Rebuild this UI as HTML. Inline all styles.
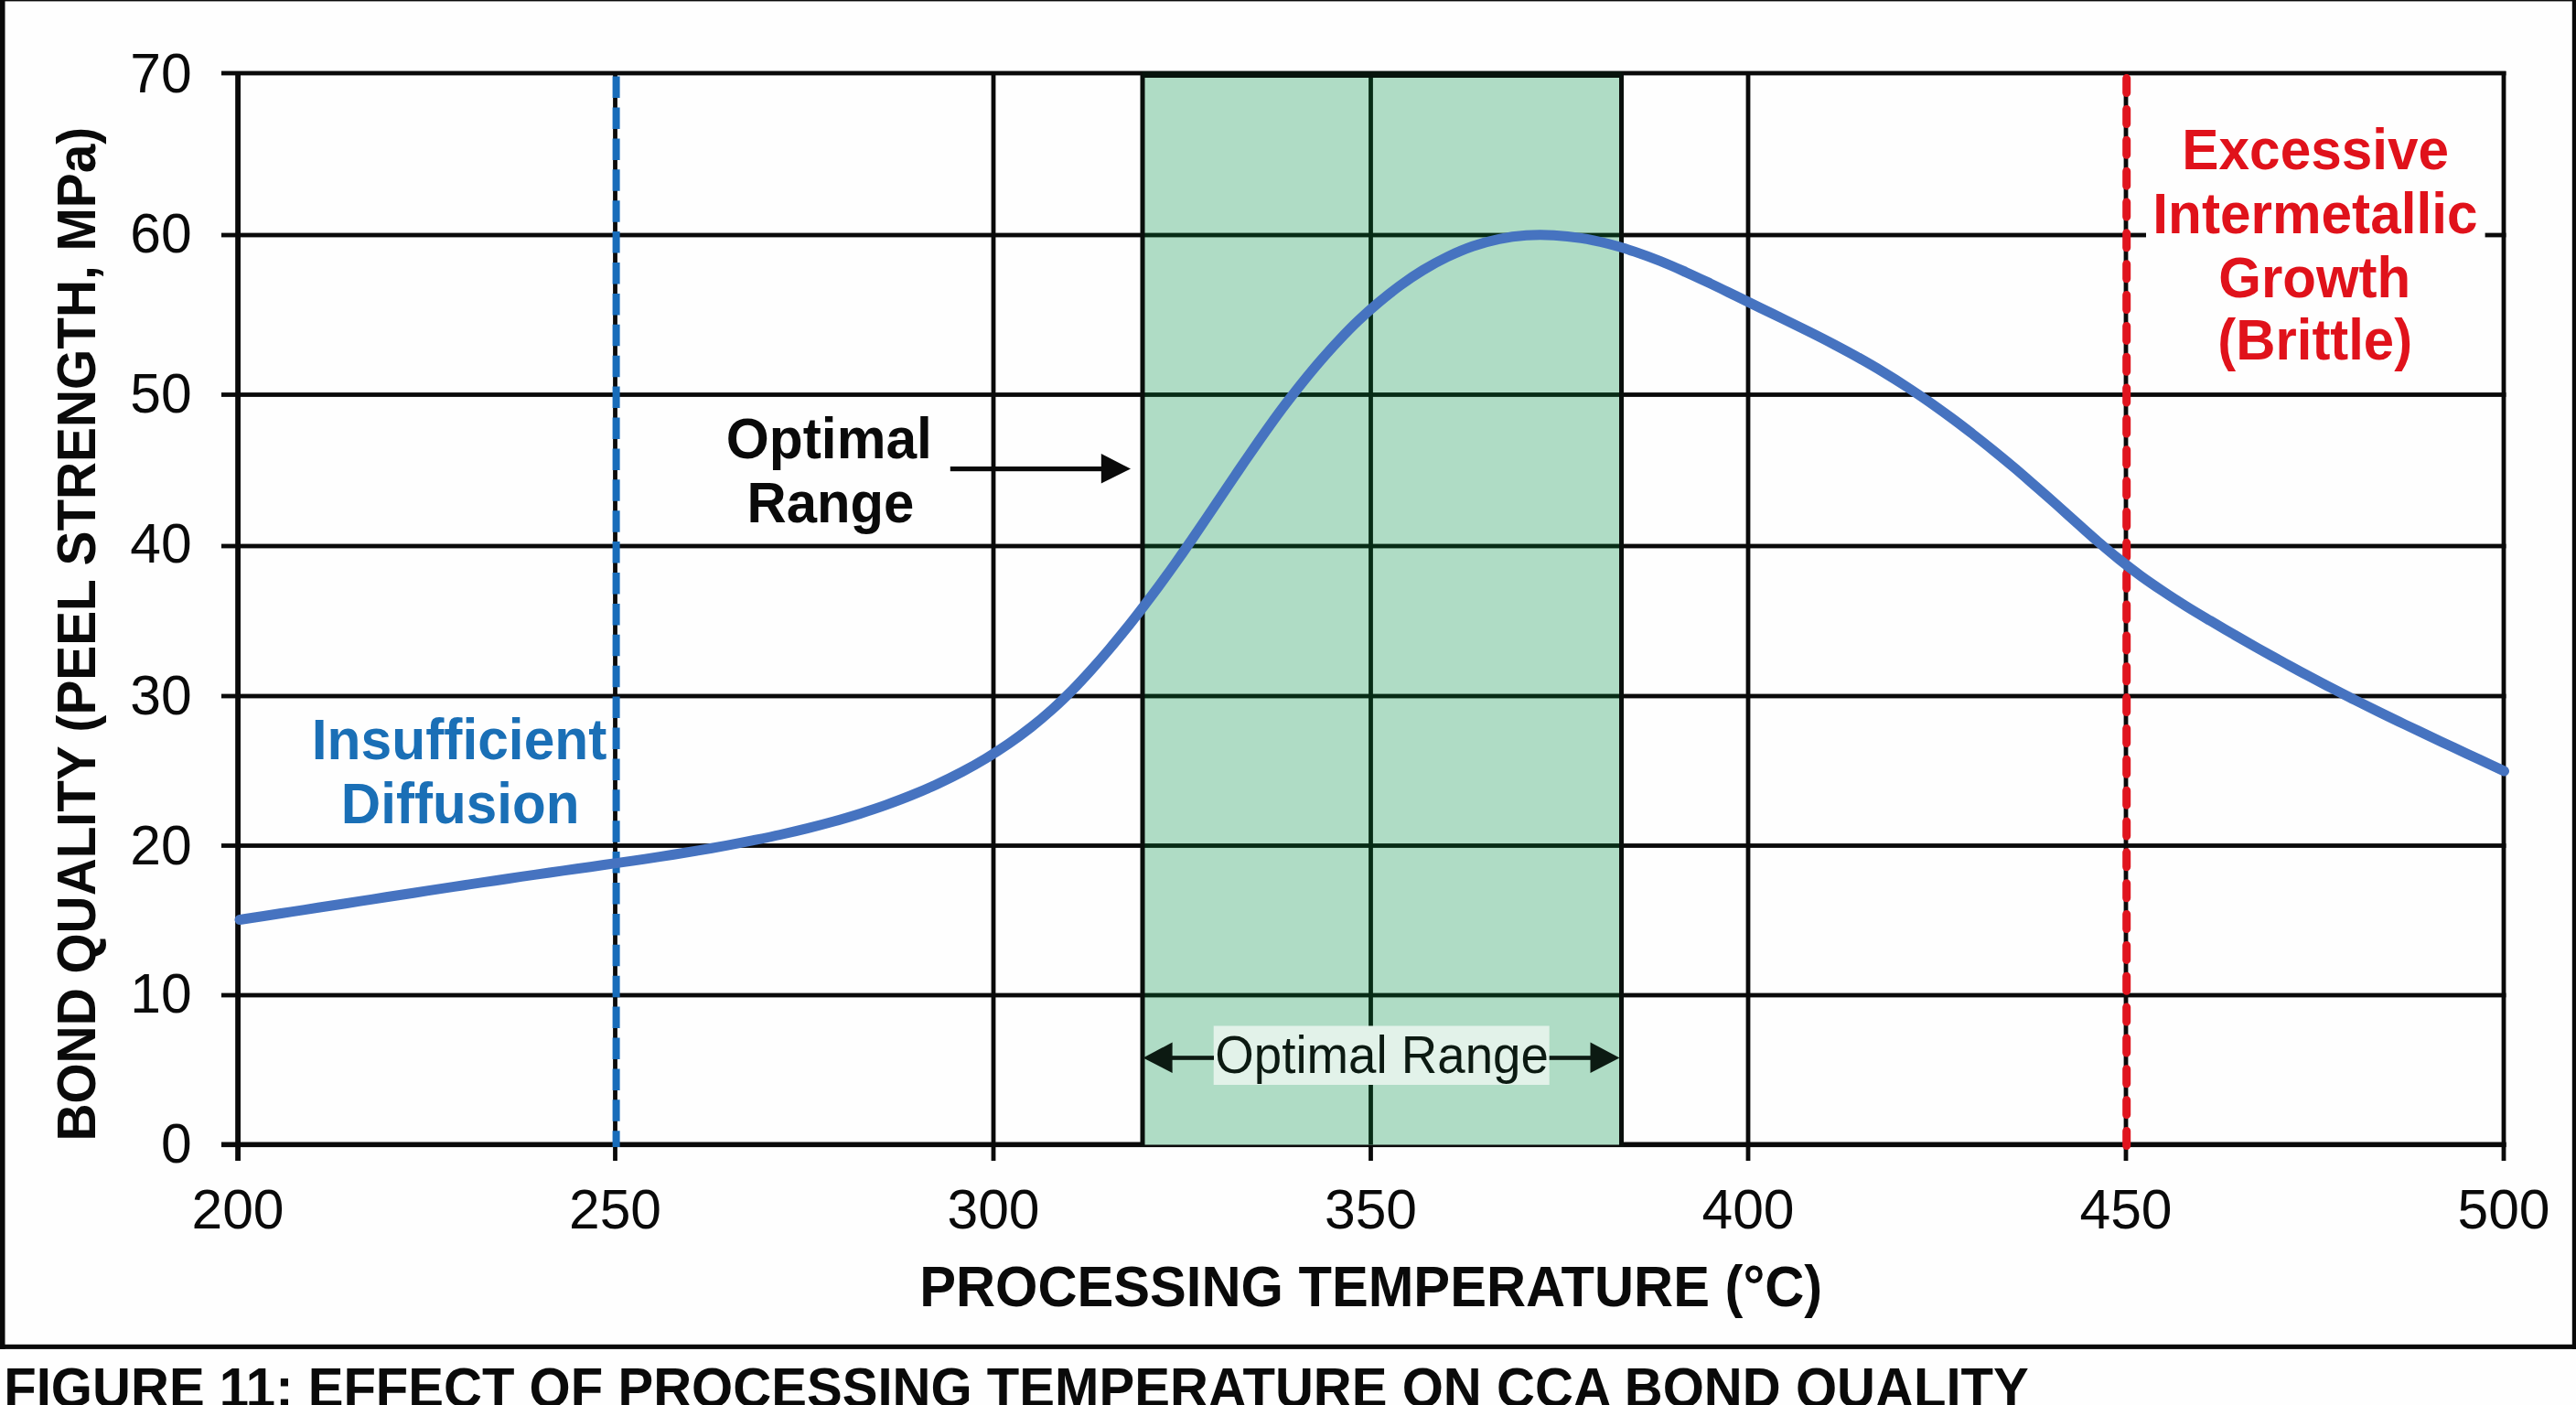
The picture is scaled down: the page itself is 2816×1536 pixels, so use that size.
<!DOCTYPE html>
<html><head><meta charset="utf-8"><style>
html,body{margin:0;padding:0;background:#fefefe;width:2816px;height:1536px;overflow:hidden}
svg{display:block}
text{font-family:"Liberation Sans",sans-serif}
</style></head><body>
<svg width="2816" height="1536" viewBox="0 0 2816 1536">
<rect x="0" y="0" width="2816" height="1536" fill="#fefefe"/>
<rect x="242" y="1249.10" width="2497.50" height="4.8" fill="#0a0a0a"/>
<rect x="242" y="1085.60" width="2497.50" height="4.8" fill="#0a0a0a"/>
<rect x="242" y="922.10" width="2497.50" height="4.8" fill="#0a0a0a"/>
<rect x="242" y="758.60" width="2497.50" height="4.8" fill="#0a0a0a"/>
<rect x="242" y="594.60" width="2497.50" height="4.8" fill="#0a0a0a"/>
<rect x="242" y="429.10" width="2497.50" height="4.8" fill="#0a0a0a"/>
<rect x="242" y="254.60" width="2497.50" height="4.8" fill="#0a0a0a"/>
<rect x="242" y="77.60" width="2497.50" height="4.8" fill="#0a0a0a"/>
<rect x="257.60" y="78" width="4.8" height="1191" fill="#0a0a0a"/>
<rect x="670.10" y="78" width="4.8" height="1191" fill="#0a0a0a"/>
<rect x="1083.60" y="78" width="4.8" height="1191" fill="#0a0a0a"/>
<rect x="1496.10" y="78" width="4.8" height="1191" fill="#0a0a0a"/>
<rect x="1908.60" y="78" width="4.8" height="1191" fill="#0a0a0a"/>
<rect x="2321.60" y="78" width="4.8" height="1191" fill="#0a0a0a"/>
<rect x="2734.60" y="78" width="4.8" height="1191" fill="#0a0a0a"/>
<rect x="257.3" y="78" width="5.7" height="1191" fill="#0a0a0a"/>
<rect x="242" y="1248.5" width="2497.5" height="5.6" fill="#0a0a0a"/>
<rect x="1249" y="80" width="523.5" height="1171.5" fill="#afdcc5"/>
<rect x="1249" y="1085.60" width="523.5" height="4.8" fill="#072c16"/>
<rect x="1249" y="922.10" width="523.5" height="4.8" fill="#072c16"/>
<rect x="1249" y="758.60" width="523.5" height="4.8" fill="#072c16"/>
<rect x="1249" y="594.60" width="523.5" height="4.8" fill="#072c16"/>
<rect x="1249" y="429.10" width="523.5" height="4.8" fill="#072c16"/>
<rect x="1249" y="254.60" width="523.5" height="4.8" fill="#072c16"/>
<rect x="1496.10" y="80" width="4.8" height="1171.5" fill="#072c16"/>
<rect x="1246.5" y="78" width="5" height="1176" fill="#0a0f0c"/>
<rect x="1770.0" y="78" width="5" height="1176" fill="#0a0f0c"/>
<rect x="1249" y="78" width="523.5" height="7" fill="#08140d"/>
<rect x="1326.7" y="1121.5" width="367.0" height="64.5" fill="#e2f2e9"/>
<rect x="2346" y="120" width="370.5999999999999" height="300" fill="#fefefe"/>
<line x1="673.6" y1="83.6" x2="673.6" y2="1254" stroke="#186cba" stroke-width="8" stroke-dasharray="23.5 10.4" stroke-linecap="butt"/>
<line x1="2324.7" y1="85.6" x2="2324.7" y2="1254" stroke="#e0141e" stroke-width="9" stroke-dasharray="16 17.85" stroke-linecap="round"/>
<path d="M262.0,1005.5 C266.4,1004.8 278.9,1002.9 288.3,1001.5 C297.7,1000.1 308.2,998.4 318.1,996.9 C328.0,995.4 337.9,993.8 347.8,992.3 C357.7,990.8 367.7,989.2 377.6,987.7 C387.5,986.2 397.4,984.6 407.3,983.1 C417.2,981.6 427.1,980.0 437.0,978.5 C446.9,977.0 456.9,975.4 466.8,973.9 C476.7,972.4 486.6,970.9 496.5,969.4 C506.4,967.9 516.4,966.4 526.3,964.9 C536.2,963.4 546.2,962.0 556.1,960.5 C566.0,959.0 576.0,957.5 585.9,956.1 C595.8,954.7 605.7,953.3 615.6,951.9 C625.5,950.5 635.5,949.1 645.4,947.7 C655.3,946.3 665.3,944.8 675.2,943.4 C685.1,942.0 695.1,940.6 705.0,939.1 C714.9,937.6 724.9,936.1 734.8,934.5 C744.7,932.9 754.6,931.3 764.5,929.6 C774.4,927.9 784.2,926.2 794.1,924.4 C804.0,922.6 813.8,920.7 823.6,918.7 C833.4,916.7 843.3,914.7 853.1,912.5 C862.9,910.3 872.7,908.0 882.4,905.6 C892.1,903.2 901.8,900.7 911.5,898.0 C921.2,895.3 930.8,892.4 940.4,889.4 C950.0,886.4 959.5,883.3 968.9,879.9 C978.3,876.5 987.7,873.0 997.0,869.2 C1006.3,865.4 1015.5,861.4 1024.6,857.2 C1033.7,853.0 1042.7,848.6 1051.6,843.9 C1060.5,839.2 1069.2,834.3 1077.8,829.1 C1086.4,823.9 1094.8,818.5 1103.1,812.8 C1111.3,807.1 1119.4,801.1 1127.3,794.9 C1135.2,788.7 1142.8,782.2 1150.3,775.5 C1157.8,768.8 1165.0,761.8 1172.1,754.7 C1179.1,747.6 1185.9,740.2 1192.6,732.8 C1199.3,725.3 1205.9,717.7 1212.4,710.0 C1218.9,702.3 1225.2,694.6 1231.5,686.8 C1237.8,679.0 1243.9,671.0 1250.0,663.1 C1256.1,655.2 1262.1,647.2 1268.1,639.1 C1274.0,631.0 1279.9,622.8 1285.7,614.6 C1291.5,606.4 1297.2,598.2 1302.9,589.9 C1308.6,581.6 1314.2,573.3 1319.8,565.0 C1325.4,556.7 1331.0,548.3 1336.6,540.0 C1342.2,531.7 1347.8,523.4 1353.4,515.1 C1359.0,506.8 1364.7,498.5 1370.4,490.3 C1376.1,482.1 1381.8,473.9 1387.7,465.7 C1393.6,457.5 1399.5,449.4 1405.6,441.4 C1411.7,433.4 1417.8,425.5 1424.1,417.7 C1430.4,409.9 1436.7,402.2 1443.3,394.6 C1449.9,387.0 1456.6,379.5 1463.5,372.2 C1470.4,364.9 1477.3,357.7 1484.6,350.8 C1491.8,343.9 1499.3,337.1 1507.0,330.7 C1514.7,324.2 1522.5,318.0 1530.6,312.1 C1538.7,306.2 1547.1,300.5 1555.7,295.3 C1564.3,290.1 1573.1,285.2 1582.1,280.9 C1591.1,276.6 1600.3,272.6 1609.8,269.3 C1619.2,266.0 1629.0,263.3 1638.8,261.3 C1648.6,259.3 1658.6,258.0 1668.6,257.3 C1678.6,256.6 1688.7,256.7 1698.7,257.2 C1708.7,257.7 1718.7,258.8 1728.6,260.4 C1738.5,261.9 1748.3,264.1 1758.0,266.5 C1767.7,268.9 1777.4,271.9 1786.9,275.1 C1796.4,278.3 1805.8,281.8 1815.1,285.5 C1824.4,289.2 1833.5,293.3 1842.7,297.4 C1851.9,301.5 1860.9,305.8 1870.0,310.1 C1879.1,314.4 1888.1,318.9 1897.1,323.3 C1906.1,327.7 1915.1,332.1 1924.1,336.5 C1933.1,340.9 1942.2,345.2 1951.2,349.6 C1960.2,354.0 1969.2,358.4 1978.2,362.9 C1987.2,367.4 1996.1,371.9 2005.0,376.6 C2013.9,381.3 2022.8,386.0 2031.5,390.9 C2040.2,395.8 2048.9,400.8 2057.5,406.0 C2066.1,411.2 2074.6,416.5 2083.0,422.0 C2091.4,427.5 2099.8,433.1 2108.0,438.8 C2116.2,444.5 2124.3,450.4 2132.4,456.3 C2140.5,462.2 2148.5,468.4 2156.4,474.5 C2164.3,480.6 2172.2,486.9 2180.0,493.2 C2187.8,499.5 2195.5,505.9 2203.2,512.4 C2210.8,518.9 2218.3,525.5 2225.9,532.1 C2233.5,538.7 2241.0,545.3 2248.5,552.0 C2256.0,558.7 2263.4,565.4 2270.9,572.1 C2278.4,578.8 2285.8,585.6 2293.4,592.1 C2301.0,598.6 2308.7,605.1 2316.5,611.4 C2324.3,617.7 2332.3,623.8 2340.4,629.7 C2348.5,635.6 2356.8,641.2 2365.1,646.8 C2373.4,652.4 2381.9,657.8 2390.4,663.1 C2398.9,668.4 2407.6,673.5 2416.2,678.6 C2424.8,683.7 2433.5,688.8 2442.2,693.8 C2450.9,698.8 2459.6,703.8 2468.3,708.7 C2477.0,713.6 2485.8,718.5 2494.6,723.3 C2503.4,728.1 2512.2,733.0 2521.1,737.7 C2529.9,742.4 2538.8,747.1 2547.7,751.7 C2556.6,756.3 2565.5,760.9 2574.5,765.4 C2583.5,769.9 2592.5,774.4 2601.5,778.8 C2610.5,783.2 2619.5,787.6 2628.6,791.9 C2637.7,796.2 2646.7,800.5 2655.8,804.8 C2664.9,809.1 2673.9,813.2 2683.0,817.5 C2692.1,821.8 2701.2,826.0 2710.3,830.3 C2719.4,834.5 2733.0,840.9 2737.5,843.0" fill="none" stroke="#4673c0" stroke-width="11" stroke-linecap="round" stroke-linejoin="round"/>
<rect x="1038.8" y="510" width="166" height="5.2" fill="#0a0a0a"/>
<path d="M1203.8,496 L1236,512.6 L1203.8,528.5 Z" fill="#0a0a0a"/>
<rect x="1280" y="1154.2" width="47" height="4.6" fill="#0c1a12"/>
<rect x="1693.7" y="1154.2" width="46" height="4.6" fill="#0c1a12"/>
<path d="M1249.6,1156.4 L1281.6,1139.5 L1281.6,1173 Z" fill="#0c1a12"/>
<path d="M1770.5,1156.4 L1738.5,1139.5 L1738.5,1173 Z" fill="#0c1a12"/>
<text id="opt1" transform="translate(906.30,501.40) scale(0.9600,1)" text-anchor="middle" font-weight="bold" font-size="63" fill="#0a0a0a">Optimal</text>
<text id="opt2" transform="translate(907.80,570.60) scale(0.9490,1)" text-anchor="middle" font-weight="bold" font-size="63" fill="#0a0a0a">Range</text>
<text id="ins1" transform="translate(502.10,829.80) scale(0.9600,1)" text-anchor="middle" font-weight="bold" font-size="63" fill="#1a6fb6">Insufficient</text>
<text id="ins2" transform="translate(503.10,900.00) scale(0.9550,1)" text-anchor="middle" font-weight="bold" font-size="63" fill="#1a6fb6">Diffusion</text>
<text id="exc1" transform="translate(2531.20,185.10) scale(0.9570,1)" text-anchor="middle" font-weight="bold" font-size="63" fill="#e0121b">Excessive</text>
<text id="exc2" transform="translate(2530.90,254.60) scale(0.9570,1)" text-anchor="middle" font-weight="bold" font-size="63" fill="#e0121b">Intermetallic</text>
<text id="exc3" transform="translate(2530.20,325.00) scale(0.9520,1)" text-anchor="middle" font-weight="bold" font-size="63" fill="#e0121b">Growth</text>
<text id="exc4" transform="translate(2530.70,393.40) scale(0.9500,1)" text-anchor="middle" font-weight="bold" font-size="63" fill="#e0121b">(Brittle)</text>
<text id="xtitle" transform="translate(1498.70,1427.80) scale(0.9620,1)" text-anchor="middle" font-weight="bold" font-size="62" fill="#0a0a0a">PROCESSING TEMPERATURE (°C)</text>
<text id="ylabel" transform="translate(104.10,693.20) rotate(-90) scale(0.9550,1)" text-anchor="middle" font-weight="bold" font-size="59.5" fill="#0a0a0a">BOND QUALITY (PEEL STRENGTH, MPa)</text>
<text id="orng" transform="translate(1510.60,1172.60) scale(0.9590,1)" text-anchor="middle" font-weight="normal" font-size="57" fill="#0c1a12">Optimal Range</text>
<text id="cap" transform="translate(1111.00,1537.70) scale(0.9370,1)" text-anchor="middle" font-weight="bold" font-size="62" fill="#0a0a0a">FIGURE 11: EFFECT OF PROCESSING TEMPERATURE ON CCA BOND QUALITY</text>
<text id="yt0" transform="translate(209.60,1270.70) scale(0.9850,1)" text-anchor="end" font-weight="normal" font-size="61.5" fill="#0a0a0a">0</text>
<text id="yt10" transform="translate(209.60,1107.30) scale(0.9850,1)" text-anchor="end" font-weight="normal" font-size="61.5" fill="#0a0a0a">10</text>
<text id="yt20" transform="translate(209.60,944.70) scale(0.9850,1)" text-anchor="end" font-weight="normal" font-size="61.5" fill="#0a0a0a">20</text>
<text id="yt30" transform="translate(209.60,780.50) scale(0.9850,1)" text-anchor="end" font-weight="normal" font-size="61.5" fill="#0a0a0a">30</text>
<text id="yt40" transform="translate(209.60,615.00) scale(0.9850,1)" text-anchor="end" font-weight="normal" font-size="61.5" fill="#0a0a0a">40</text>
<text id="yt50" transform="translate(209.60,451.00) scale(0.9850,1)" text-anchor="end" font-weight="normal" font-size="61.5" fill="#0a0a0a">50</text>
<text id="yt60" transform="translate(209.60,275.70) scale(0.9850,1)" text-anchor="end" font-weight="normal" font-size="61.5" fill="#0a0a0a">60</text>
<text id="yt70" transform="translate(209.60,100.50) scale(0.9850,1)" text-anchor="end" font-weight="normal" font-size="61.5" fill="#0a0a0a">70</text>
<text id="xt200" transform="translate(260.00,1343.00) scale(0.9850,1)" text-anchor="middle" font-weight="normal" font-size="61.5" fill="#0a0a0a">200</text>
<text id="xt250" transform="translate(672.50,1343.00) scale(0.9850,1)" text-anchor="middle" font-weight="normal" font-size="61.5" fill="#0a0a0a">250</text>
<text id="xt300" transform="translate(1086.00,1343.00) scale(0.9850,1)" text-anchor="middle" font-weight="normal" font-size="61.5" fill="#0a0a0a">300</text>
<text id="xt350" transform="translate(1498.50,1343.00) scale(0.9850,1)" text-anchor="middle" font-weight="normal" font-size="61.5" fill="#0a0a0a">350</text>
<text id="xt400" transform="translate(1911.00,1343.00) scale(0.9850,1)" text-anchor="middle" font-weight="normal" font-size="61.5" fill="#0a0a0a">400</text>
<text id="xt450" transform="translate(2324.00,1343.00) scale(0.9850,1)" text-anchor="middle" font-weight="normal" font-size="61.5" fill="#0a0a0a">450</text>
<text id="xt500" transform="translate(2737.00,1343.00) scale(0.9850,1)" text-anchor="middle" font-weight="normal" font-size="61.5" fill="#0a0a0a">500</text>
<rect x="0" y="0" width="5.5" height="1475" fill="#0a0a0a"/>
<rect x="2811.8" y="0" width="4.2" height="1475" fill="#0a0a0a"/>
<rect x="0" y="0" width="2816" height="1.4" fill="#0a0a0a"/>
<rect x="0" y="1469.8" width="2816" height="5.1" fill="#0a0a0a"/>
</svg></body></html>
